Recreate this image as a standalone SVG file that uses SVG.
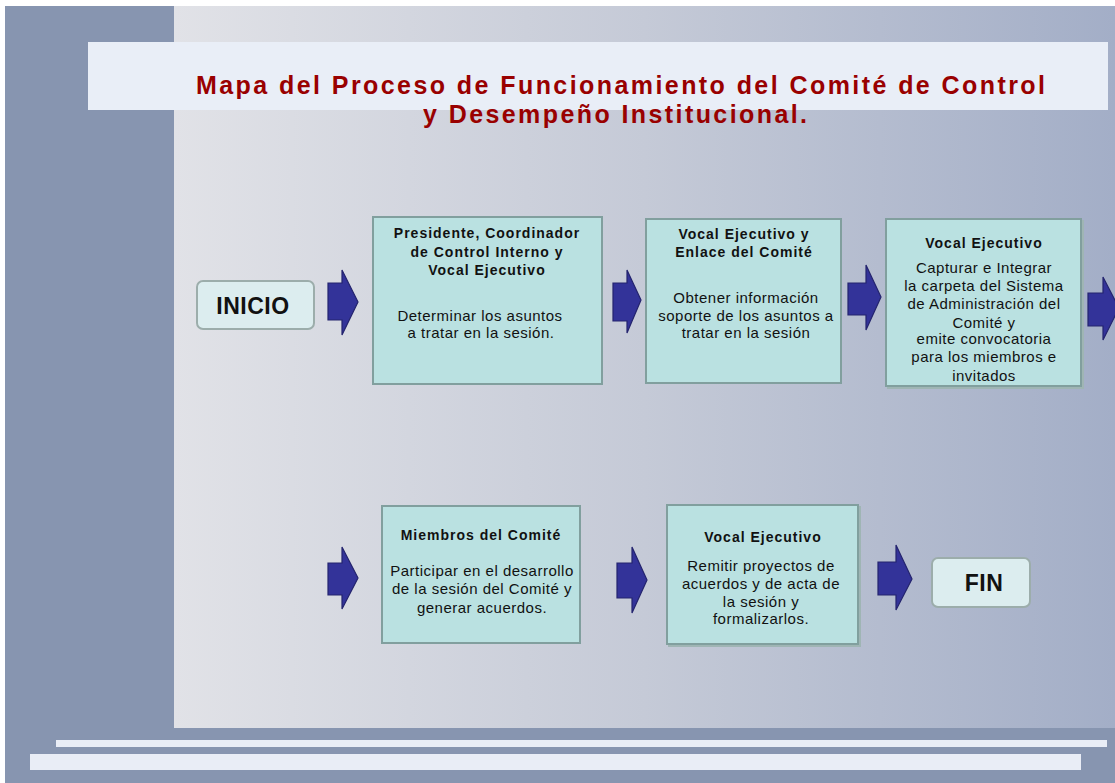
<svg xmlns="http://www.w3.org/2000/svg" width="1115" height="783" viewBox="0 0 1115 783">
<defs>
<linearGradient id="panelGrad" x1="0" y1="0" x2="1" y2="0">
<stop offset="0" stop-color="#e1e2e7"/>
<stop offset="0.5" stop-color="#c5cad7"/>
<stop offset="1" stop-color="#a3aec7"/>
</linearGradient>
</defs>
<style>
.title{font-family:"Liberation Sans",Arial,sans-serif;font-weight:bold;font-size:25px;fill:#990000}
.box{fill:#bae1e1;stroke:#819f9e;stroke-width:2}
.shadow{fill:none;stroke:#9fb5b4;stroke-width:2}
.term{fill:#dcedef;stroke:#9cadab;stroke-width:2}
.arrow{fill:#333399;stroke:#24246e;stroke-width:1.2;stroke-linejoin:miter}
.hd{font-family:"Liberation Sans",Arial,sans-serif;font-weight:bold;font-size:14px;letter-spacing:1px;fill:#111;text-anchor:middle}
.tx{font-family:"Liberation Sans",Arial,sans-serif;font-size:15px;letter-spacing:0.5px;fill:#111;text-anchor:middle}
.tm{font-family:"Liberation Sans",Arial,sans-serif;font-weight:bold;font-size:23px;letter-spacing:0.5px;fill:#111;text-anchor:middle}
.strip{fill:#e9edf6}
</style>
<rect x="0" y="0" width="1115" height="783" fill="#ffffff"/>
<rect x="5" y="6" width="1110" height="777" fill="#8795b0"/>
<rect x="174" y="6" width="941" height="722" fill="url(#panelGrad)"/>
<rect x="88" y="42" width="1020" height="68" fill="#e9eef7"/>
<rect class="strip" x="56" y="740" width="1051" height="7"/>
<rect class="strip" x="30" y="754" width="1051" height="16"/>
<g id="title">
<text class="title" x="196" y="94" textLength="849" lengthAdjust="spacing">Mapa del Proceso de Funcionamiento del Comité de Control</text>
<text class="title" x="423" y="123" textLength="384" lengthAdjust="spacing">y Desempeño Institucional.</text>
</g>
<g id="connectors">
<path class="arrow" d="M328,283 H342 V270 L358,302 L342,335 V320 H328 Z"/>
<path class="arrow" d="M613,283 H627 V270 L641,300 L627,333 V321 H613 Z"/>
<path class="arrow" d="M848,283 H866 V265 L881,297 L866,330 V315 H848 Z"/>
<path class="arrow" d="M1088,293 H1103 V277 L1119,308 L1103,340 V326 H1088 Z"/>
<path class="arrow" d="M328,563 H342 V547 L358,578 L342,609 V595 H328 Z"/>
<path class="arrow" d="M617,563 H632 V547 L647,580 L632,613 V598 H617 Z"/>
<path class="arrow" d="M878,562 H896 V545 L912,579 L896,610 V595 H878 Z"/>
</g>
<g id="inicio">
<rect class="term" x="197" y="281" width="117" height="48" rx="6"/>
<text class="tm" x="253" y="314">INICIO</text>
</g>
<g id="paso1">
<rect class="box" x="373" y="217" width="229" height="167"/>
<text class="hd" x="487" y="238">Presidente, Coordinador</text>
<text class="hd" x="487" y="257">de Control Interno y</text>
<text class="hd" x="487" y="275">Vocal Ejecutivo</text>
<text class="tx" x="480" y="321">Determinar los asuntos</text>
<text class="tx" x="481" y="338">a tratar en la sesión.</text>
</g>
<g id="paso2">
<rect class="box" x="646" y="219" width="195" height="164"/>
<text class="hd" x="744" y="239">Vocal Ejecutivo y</text>
<text class="hd" x="744" y="257">Enlace del Comité</text>
<text class="tx" x="746" y="303">Obtener información</text>
<text class="tx" x="746" y="321">soporte de los asuntos a</text>
<text class="tx" x="746" y="338">tratar en la sesión</text>
</g>
<g id="paso3">
<rect class="shadow" x="888" y="221" width="195" height="167"/>
<rect class="box" x="886" y="219" width="195" height="167"/>
<text class="hd" x="984" y="248">Vocal Ejecutivo</text>
<text class="tx" x="984" y="273">Capturar e Integrar</text>
<text class="tx" x="984" y="291">la carpeta del Sistema</text>
<text class="tx" x="984" y="309">de Administración del</text>
<text class="tx" x="984" y="328">Comité y</text>
<text class="tx" x="984" y="344">emite convocatoria</text>
<text class="tx" x="984" y="362">para los miembros e</text>
<text class="tx" x="984" y="381">invitados</text>
</g>
<g id="paso4">
<rect class="box" x="382" y="506" width="198" height="137"/>
<text class="hd" x="481" y="540">Miembros del Comité</text>
<text class="tx" x="482" y="576">Participar en el desarrollo</text>
<text class="tx" x="482" y="594">de la sesión del Comité y</text>
<text class="tx" x="482" y="613">generar acuerdos.</text>
</g>
<g id="paso5">
<rect class="shadow" x="669" y="507" width="191" height="139"/>
<rect class="box" x="667" y="505" width="191" height="139"/>
<text class="hd" x="763" y="542">Vocal Ejecutivo</text>
<text class="tx" x="761" y="571">Remitir proyectos de</text>
<text class="tx" x="761" y="589">acuerdos y de acta de</text>
<text class="tx" x="761" y="607">la sesión y</text>
<text class="tx" x="761" y="624">formalizarlos.</text>
</g>
<g id="fin">
<rect class="term" x="932" y="558" width="98" height="49" rx="6"/>
<text class="tm" x="984" y="591">FIN</text>
</g>
</svg>
